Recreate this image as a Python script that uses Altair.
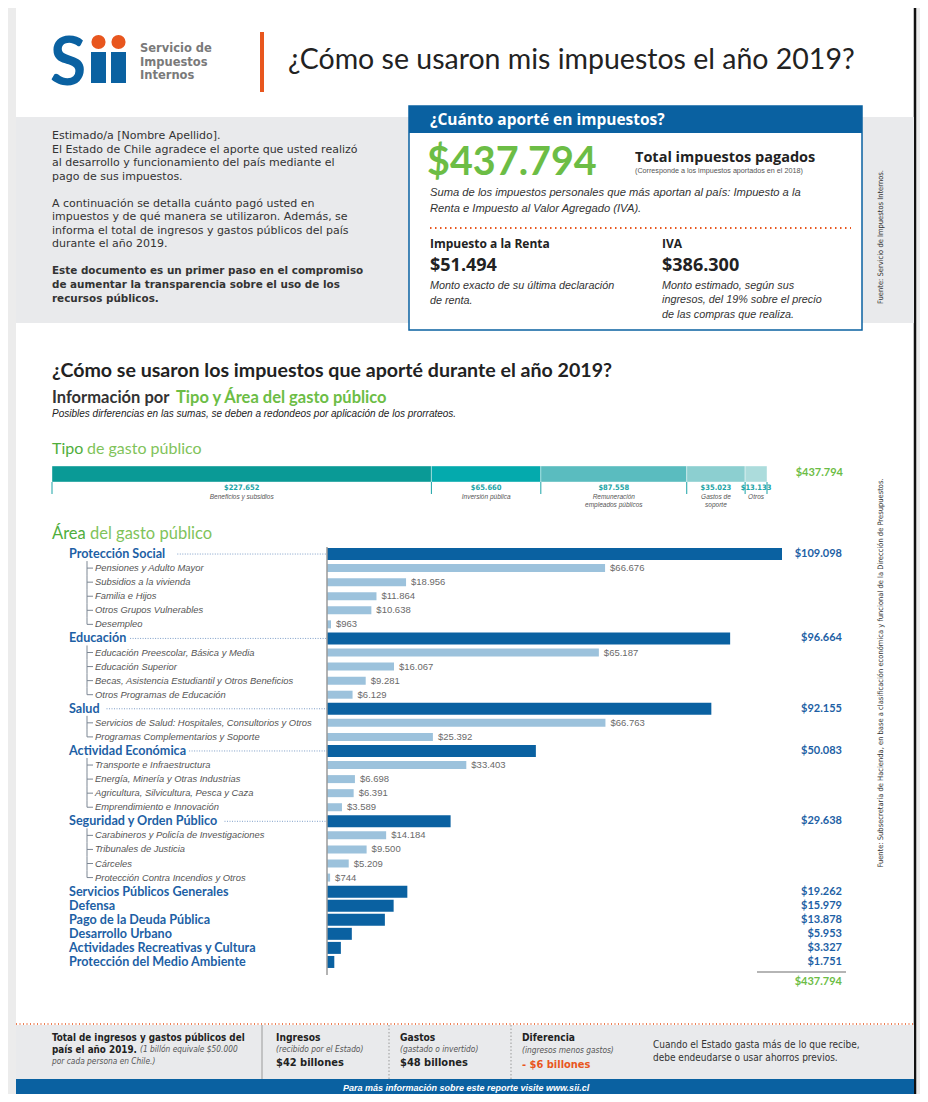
import altair as alt
import pandas as pd

# ---------------- data ----------------
TOTAL = 437794
RENTA = 51494
IVA = 386300

tipo_labels = ["Beneficios y subsidios", "Inversión pública", "Remuneración empleados públicos",
               "Gastos de soporte", "Otros"]
tipo_captions = ["Beneficios y subsidios", "Inversión pública", "Remuneración\nempleados públicos",
                 "Gastos de\nsoporte", "Otros"]
tipo_values = [227652, 65660, 87558, 35023, 13133]

area_labels = [
    "Protección Social", "Pensiones y Adulto Mayor", "Subsidios a la vivienda", "Familia e Hijos",
    "Otros Grupos Vulnerables", "Desempleo",
    "Educación", "Educación Preescolar, Básica y Media", "Educación Superior",
    "Becas, Asistencia Estudiantil y Otros Beneficios", "Otros Programas de Educación",
    "Salud", "Servicios de Salud: Hospitales, Consultorios y Otros", "Programas Complementarios y Soporte",
    "Actividad Económica", "Transporte e Infraestructura", "Energía, Minería y Otras Industrias",
    "Agricultura, Silvicultura, Pesca y Caza", "Emprendimiento e Innovación",
    "Seguridad y Orden Público", "Carabineros y Policía de Investigaciones", "Tribunales de Justicia",
    "Cárceles", "Protección Contra Incendios y Otros",
    "Servicios Públicos Generales", "Defensa", "Pago de la Deuda Pública", "Desarrollo Urbano",
    "Actividades Recreativas y Cultura", "Protección del Medio Ambiente",
]
area_values = [
    109098, 66676, 18956, 11864, 10638, 963,
    96664, 65187, 16067, 9281, 6129,
    92155, 66763, 25392,
    50083, 33403, 6698, 6391, 3589,
    29638, 14184, 9500, 5209, 744,
    19262, 15979, 13878, 5953, 3327, 1751,
]
area_level = [
    "parent", "child", "child", "child", "child", "child",
    "parent", "child", "child", "child", "child",
    "parent", "child", "child",
    "parent", "child", "child", "child", "child",
    "parent", "child", "child", "child", "child",
    "parent", "parent", "parent", "parent", "parent", "parent",
]


def fmt(v):
    return "$" + f"{v:,}".replace(",", ".")


n = len(area_labels)
rows = []
for i, (lab, val, lev) in enumerate(zip(area_labels, area_values, area_level)):
    nxt = area_level[i + 1] if i + 1 < n else "parent"
    has_kids = lev == "parent" and nxt == "child"
    is_last = lev == "child" and nxt == "parent"
    rows.append(dict(label=lab, value=val, level=lev, i=i, vlabel=fmt(val),
                     has_kids=has_kids, top=i - 0.5, bot=(i if is_last else i + 0.5)))
df_area = pd.DataFrame(rows)

cum = 0
trow = []
for k, (lab, cap, val) in enumerate(zip(tipo_labels, tipo_captions, tipo_values)):
    trow.append(dict(label=lab, caption=cap, value=val, start=cum, end=cum + val,
                     mid=cum + val / 2, vlabel=fmt(val), k=k))
    cum += val
df_tipo = pd.DataFrame(trow)
df_edges = pd.DataFrame({"edge": [r["start"] for r in trow] + [cum]})

# ---------------- helpers ----------------
DUMMY = pd.DataFrame({"d": [0]})
SANS = "Lato, 'Open Sans', sans-serif"
OPEN = "'Open Sans', Lato, sans-serif"
DEJA = "'DejaVu Sans', sans-serif"
ARIAL = "'Liberation Sans', Arial, sans-serif"
NARROW = "'Liberation Sans Narrow', 'DejaVu Sans Condensed', sans-serif"
O = 8
BLUE = "#0a61a1"
LBLUE = "#9cc2dc"
GREEN = "#6cbd45"
ORANGE = "#e8561e"
TEAL = "#1aa3a6"
layers = []


def T(x, y, s, size=11, color="#333333", weight="normal", style="normal", font=SANS,
      align="left", baseline="middle", angle=None):
    mk = dict(align=align, baseline=baseline, fontSize=size, color=color, fontWeight=weight,
              fontStyle=style, font=font)
    if angle is not None:
        mk["angle"] = angle
    layers.append(alt.Chart(DUMMY).mark_text(**mk).encode(
        x=alt.value(x - O), y=alt.value(y - O), text=alt.value(s)))


def R(x1, y1, x2, y2, color=None, **kw):
    if color is not None:
        kw["color"] = color
    layers.append(alt.Chart(DUMMY).mark_rect(**kw).encode(
        x=alt.value(x1 - O), x2=alt.value(x2 - O), y=alt.value(y1 - O), y2=alt.value(y2 - O)))


def L(x1, y1, x2, y2, color, width=1.0, dash=None):
    kw = dict(color=color, strokeWidth=width)
    if dash:
        kw["strokeDash"] = dash
    layers.append(alt.Chart(DUMMY).mark_rule(**kw).encode(
        x=alt.value(x1 - O), x2=alt.value(x2 - O), y=alt.value(y1 - O), y2=alt.value(y2 - O)))


# ---------------- page ----------------
R(16, 8, 914, 1102, "white")
L(915, 8, 915, 1102, "#111111", 2.5)

# header / logo
T(50, 85, "S", size=66, color=BLUE, weight="bold", font=SANS, baseline="alphabetic")
R(91, 52, 106, 83, BLUE)
R(111, 52, 126, 83, BLUE)
layers.append(alt.Chart(DUMMY).mark_point(filled=True, shape="circle", size=200, color=ORANGE, opacity=1).encode(
    x=alt.value(98.5 - O), y=alt.value(42 - O)))
layers.append(alt.Chart(DUMMY).mark_point(filled=True, shape="circle", size=200, color=ORANGE, opacity=1).encode(
    x=alt.value(118.5 - O), y=alt.value(42 - O)))
T(140, 49, "Servicio de", size=11.5, color="#7a7a7a", weight="bold", font=DEJA)
T(140, 62.5, "Impuestos", size=11.5, color="#7a7a7a", weight="bold", font=DEJA)
T(140, 76, "Internos", size=11.5, color="#7a7a7a", weight="bold", font=DEJA)
R(260, 32, 264, 92, ORANGE)
T(288, 60, "¿Cómo se usaron mis impuestos el año 2019?", size=28.5, color="#222222")

# grey intro band
R(16, 117, 914, 323, "#e9eaec")
intro = [
    (136, "Estimado/a [Nombre Apellido].", "normal"),
    (150, "El Estado de Chile agradece el aporte que usted realizó", "normal"),
    (163, "al desarrollo y funcionamiento del país mediante el", "normal"),
    (177, "pago de sus impuestos.", "normal"),
    (204, "A continuación se detalla cuánto pagó usted en", "normal"),
    (217, "impuestos y de qué manera se utilizaron. Además, se", "normal"),
    (231, "informa el total de ingresos y gastos públicos del país", "normal"),
    (244, "durante el año 2019.", "normal"),
    (271, "Este documento es un primer paso en el compromiso", "bold"),
    (285, "de aumentar la transparencia sobre el uso de los", "bold"),
    (299, "recursos públicos.", "bold"),
]
for yy, s, w in intro:
    T(52, yy, s, size=(11 if w == "normal" else 10.4), color="#333333", weight=w, font=DEJA)

# box
R(409, 106, 862, 330, fill="white", stroke=BLUE, strokeWidth=1.5)
R(409, 106, 862, 133, BLUE)
T(430, 120, "¿Cuánto aporté en impuestos?", size=15.5, color="white", weight="bold", font=OPEN)
T(427, 163, fmt(TOTAL), size=39.5, color=GREEN, weight="bold")
T(635, 158, "Total impuestos pagados", size=14.5, color="#222222", weight="bold", font=OPEN)
T(635, 171, "(Corresponde a los impuestos aportados en el 2018)", size=7.2, color="#555555", font=ARIAL)
T(430, 193, "Suma de los impuestos personales que más aportan al país: Impuesto a la", size=11.2,
  color="#333333", style="italic", font=ARIAL)
T(430, 209, "Renta e Impuesto al Valor Agregado (IVA).", size=11.2, color="#333333", style="italic", font=ARIAL)
L(430, 228, 851, 228, ORANGE, 2, [1.5, 3.5])
T(430, 244, "Impuesto a la Renta", size=12, color="#222222", weight="bold", font=OPEN)
T(662, 244, "IVA", size=12, color="#222222", weight="bold", font=OPEN)
T(430, 266, fmt(RENTA), size=18, color="#222222", weight="bold", font=OPEN)
T(662, 266, fmt(IVA), size=18, color="#222222", weight="bold", font=OPEN)
T(430, 286, "Monto exacto de su última declaración", size=10.8, color="#333333", style="italic", font=ARIAL)
T(430, 301, "de renta.", size=10.8, color="#333333", style="italic", font=ARIAL)
T(662, 286, "Monto estimado, según sus", size=10.8, color="#333333", style="italic", font=ARIAL)
T(662, 300, "ingresos, del 19% sobre el precio", size=10.8, color="#333333", style="italic", font=ARIAL)
T(662, 315, "de las compras que realiza.", size=10.8, color="#333333", style="italic", font=ARIAL)
T(881, 237, "Fuente: Servicio de Impuestos Internos.", size=7.5, color="#333333", font=NARROW, align="center",
  angle=270)
T(881, 673, "Fuente: Subsecretaría de Hacienda, en base a clasificación económica y funcional de la "
  "Dirección de Presupuestos.", size=7.5, color="#333333", font=NARROW, align="center", angle=270)

# section titles
T(52, 371, "¿Cómo se usaron los impuestos que aporté durante el año 2019?", size=19.6, color="#222222",
  weight="bold")
T(52, 398, "Información por", size=16.5, color="#333333", weight="bold")
T(176, 398, "Tipo y Área del gasto público", size=16.5, color=GREEN, weight="bold")
T(52, 414, "Posibles dirferencias en las sumas, se deben a redondeos por aplicación de los prorrateos.",
  size=10, color="#222222", style="italic", font=ARIAL)
T(52, 449, "Tipo", size=16, color="#4fae3c")
T(87, 449, "de gasto público", size=16, color="#7fc35a")
T(52, 534, "Área", size=16.5, color="#4fae3c")
T(90, 534, "del gasto público", size=16.5, color="#7fc35a")

# ---------------- Tipo de gasto (stacked bar) ----------------
xs_t = alt.Scale(domain=[0, cum], range=[52 - O, 767 - O], nice=False, zero=False)
tipo_colors = ["#0a9a96", "#04aaad", "#5abcbf", "#8ccfd0", "#acdcdc"]
layers.append(alt.Chart(df_tipo).mark_rect(stroke="white", strokeWidth=0.4).encode(
    x=alt.X("start:Q", scale=xs_t, axis=None), x2="end:Q",
    y=alt.value(466 - O), y2=alt.value(482 - O),
    color=alt.Color("label:N", scale=alt.Scale(domain=tipo_labels, range=tipo_colors), legend=None)))
layers.append(alt.Chart(df_edges).mark_rule(color=TEAL, strokeWidth=1).encode(
    x=alt.X("edge:Q", scale=xs_t, axis=None), y=alt.value(482 - O), y2=alt.value(494 - O)))
layers.append(alt.Chart(df_tipo).mark_text(fontSize=7.5, fontWeight="bold", color=TEAL, font=NARROW).encode(
    x=alt.X("mid:Q", scale=xs_t, axis=None), y=alt.value(488 - O), text="vlabel:N"))
layers.append(alt.Chart(df_tipo).mark_text(fontSize=6.5, fontStyle="italic", color="#555555", font=ARIAL,
                                           baseline="top", lineBreak="\n", lineHeight=8).encode(
    x=alt.X("mid:Q", scale=xs_t, axis=None), y=alt.value(494 - O), text="caption:N"))
T(843, 473, fmt(TOTAL), size=11, color=GREEN, weight="bold", align="right")

# ---------------- Área del gasto (bars) ----------------
xs_a = alt.Scale(domain=[0, max(area_values)], range=[327 - O, 782 - O], nice=False, zero=True)
ys_a = alt.Scale(domain=area_labels, range=[547 - O, 969 - O], paddingInner=0, paddingOuter=0)
yi = alt.Scale(domain=[-0.5, n - 0.5], range=[547 - O, 969 - O], nice=False, zero=False)
base = alt.Chart(df_area)

layers.append(base.transform_filter("datum.level == 'parent'").mark_bar(size=12, color=BLUE).encode(
    x=alt.X("value:Q", scale=xs_a, axis=None), y=alt.Y("label:N", scale=ys_a, axis=None)))
layers.append(base.transform_filter("datum.level == 'child'").mark_bar(size=8, color=LBLUE).encode(
    x=alt.X("value:Q", scale=xs_a, axis=None), y=alt.Y("label:N", scale=ys_a, axis=None)))
L(327, 547, 327, 975, "#9a9a9a", 1.5)

# parent labels
layers.append(base.transform_filter("datum.level == 'parent'").mark_text(
    align="left", fontSize=12.6, fontWeight="bold", color="#1d5fa5", font=SANS).encode(
    x=alt.value(69 - O), y=alt.Y("i:Q", scale=yi, axis=None), text="label:N"))
# dotted leaders
layers.append(base.transform_filter("datum.has_kids").transform_calculate(
    lx="61 + length(datum.label) * 5.9 + 8").mark_rule(color="#7f9fc8", strokeWidth=1, strokeDash=[1, 1.5]).encode(
    x=alt.X("lx:Q", scale=None), x2=alt.value(327 - O), y=alt.Y("i:Q", scale=yi, axis=None)))
# child labels
layers.append(base.transform_filter("datum.level == 'child'").mark_text(
    align="left", fontSize=9.4, fontStyle="italic", color="#555555", font=ARIAL).encode(
    x=alt.value(95 - O), y=alt.Y("i:Q", scale=yi, axis=None), text="label:N"))
# tree lines
layers.append(base.transform_filter("datum.level == 'child'").mark_rule(color="#7d8794", strokeWidth=1).encode(
    x=alt.value(87 - O), y=alt.Y("top:Q", scale=yi, axis=None), y2="bot:Q"))
layers.append(base.transform_filter("datum.level == 'child'").mark_rule(color="#7d8794", strokeWidth=1).encode(
    x=alt.value(87 - O), x2=alt.value(93 - O), y=alt.Y("i:Q", scale=yi, axis=None)))
# child values
layers.append(base.transform_filter("datum.level == 'child'").mark_text(
    align="left", dx=5, fontSize=9.5, color="#6a6a6a", font=ARIAL).encode(
    x=alt.X("value:Q", scale=xs_a, axis=None), y=alt.Y("i:Q", scale=yi, axis=None), text="vlabel:N"))
# parent values at right
layers.append(base.transform_filter("datum.level == 'parent'").mark_text(
    align="right", fontSize=11, fontWeight="bold", color="#1d5fa5", font=SANS).encode(
    x=alt.value(842 - O), y=alt.Y("i:Q", scale=yi, axis=None), text="vlabel:N"))
L(757, 972, 846, 972, "#b5b5b5", 2)
T(842, 982, fmt(TOTAL), size=11, color=GREEN, weight="bold", align="right")

# ---------------- footer ----------------
L(16, 1024, 914, 1024, ORANGE, 1.5, [1, 2.5])
R(16, 1025, 914, 1079, "#e9eaec")
L(262, 1025, 262, 1079, "#9a9a9a", 1)
L(389, 1025, 389, 1079, "#9a9a9a", 1, [1.5, 2])
L(511, 1025, 511, 1079, "#9a9a9a", 1, [1.5, 2])
T(52, 1038, "Total de ingresos y gastos públicos del", size=9.8, color="#222222", weight="bold", font=NARROW)
T(52, 1050, "país el año 2019.", size=9.8, color="#222222", weight="bold", font=NARROW)
T(140, 1050, "(1 billón equivale $50.000", size=8.3, color="#555555", style="italic", font=NARROW)
T(52, 1062, "por cada persona en Chile.)", size=8.3, color="#555555", style="italic", font=NARROW)
T(276, 1038, "Ingresos", size=10.2, color="#222222", weight="bold", font=NARROW)
T(276, 1050, "(recibido por el Estado)", size=8.3, color="#555555", style="italic", font=NARROW)
T(276, 1063, "$42 billones", size=11, color="#222222", weight="bold", font=NARROW)
T(400, 1038, "Gastos", size=10.2, color="#222222", weight="bold", font=NARROW)
T(400, 1050, "(gastado o invertido)", size=8.3, color="#555555", style="italic", font=NARROW)
T(400, 1063, "$48 billones", size=11, color="#222222", weight="bold", font=NARROW)
T(522, 1038, "Diferencia", size=10.2, color="#222222", weight="bold", font=NARROW)
T(522, 1051, "(ingresos menos gastos)", size=8.3, color="#555555", style="italic", font=NARROW)
T(522, 1065, "- $6 billones", size=11, color=ORANGE, weight="bold", font=NARROW)
T(653, 1045, "Cuando el Estado gasta más de lo que recibe,", size=10, color="#333333", font=NARROW)
T(653, 1058, "debe endeudarse o usar ahorros previos.", size=10, color="#333333", font=NARROW)
R(16, 1079, 914, 1102, BLUE)
T(466, 1087.5, "Para más información sobre este reporte visite www.sii.cl", size=9, color="white",
  weight="bold", style="italic", font=ARIAL, align="center")

chart = alt.layer(*layers).properties(
    width=912, height=1086, background="#ececec", padding=0, autosize="none"
).resolve_scale(x="independent", y="independent", color="independent").configure_view(stroke=None)

chart.save("out.html", embed_options={"renderer": "svg", "actions": False})
